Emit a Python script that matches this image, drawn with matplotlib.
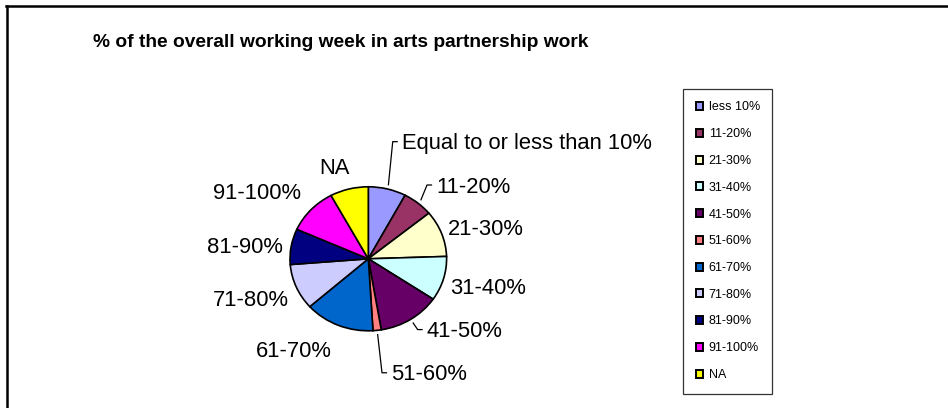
import matplotlib
matplotlib.use("Agg")
import matplotlib.pyplot as plt
from matplotlib.lines import Line2D
import numpy as np

# Share of the working week spent on arts partnership work
categories = ["less 10%", "11-20%", "21-30%", "31-40%", "41-50%", "51-60%",
              "61-70%", "71-80%", "81-90%", "91-100%", "NA"]
slice_labels = ["Equal to or less than 10%", "11-20%", "21-30%", "31-40%",
                "41-50%", "51-60%", "61-70%", "71-80%", "81-90%", "91-100%", "NA"]
shares = [7.8, 6.3, 10.4, 10.0, 12.9, 1.7, 14.4, 10.3, 8.0, 10.4, 7.9]
colors = ["#9999FF", "#993366", "#FFFFCC", "#CCFFFF", "#660066", "#FF8080",
          "#0066CC", "#CCCCFF", "#000080", "#FF00FF", "#FFFF00"]

# label layout in pie-axes units: (x, baseline y, alignment, leader line?)
label_layout = [
    (0.427, 1.52, "left", True),
    (0.865, 0.918, "left", True),
    (1.02, 0.33, "left", False),
    (1.05, -0.49, "left", False),
    (0.745, -1.09, "left", True),
    (0.29, -1.69, "left", True),
    (-0.467, -1.37, "right", False),
    (-1.01, -0.656, "right", False),
    (-1.093, 0.085, "right", False),
    (-0.86, 0.826, "right", False),
    (-0.434, 1.176, "center", False),
]

W, H = 948, 408
fig = plt.figure(figsize=(W / 100, H / 100), dpi=100)
fig.patch.set_facecolor("white")

label_font = ["Liberation Sans", "DejaVu Sans"]

# pie area (pixel box converted to figure fractions)
cx, cy, rx, ry = 368.3, 258.8, 78.3, 72.0
ax = fig.add_axes([(cx - rx) / W, (H - cy - ry) / H, 2 * rx / W, 2 * ry / H])
wedges, _ = ax.pie(shares, colors=colors, startangle=90, counterclock=False,
                   wedgeprops=dict(edgecolor="black", linewidth=1.2))
ax.set_aspect("auto")
ax.set_xlim(-1, 1)
ax.set_ylim(-1, 1)
ax.axis("off")

for w, text, (lx, ly, ha, leader) in zip(wedges, slice_labels, label_layout):
    ax.text(lx, ly, text, ha=ha, va="baseline", fontsize=15.8,
            family=label_font, color="black", clip_on=False)
    if leader:
        mid = np.deg2rad((w.theta1 + w.theta2) / 2)
        sx, sy = 1.06 * np.cos(mid), 1.06 * np.sin(mid)
        ey = ly + 0.107
        ax.add_line(Line2D([sx, lx - 0.115, lx - 0.058], [sy, ey, ey],
                           color="black", linewidth=0.9, clip_on=False))

# title
fig.text(92.7 / W, 1 - 46.7 / H, "% of the overall working week in arts partnership work",
         ha="left", va="baseline", fontsize=13.8, fontweight="bold",
         family=label_font)

# legend
leg = fig.legend(wedges, categories, loc="upper left",
                 bbox_to_anchor=(683 / W, 1 - 89 / H),
                 frameon=True, fancybox=False, shadow=False,
                 prop=dict(family=label_font, size=9),
                 handlelength=0.6, handleheight=0.6, handletextpad=0.45,
                 labelspacing=1.18, borderpad=1.0, borderaxespad=0)
frame = leg.get_frame()
frame.set_edgecolor("black")
frame.set_linewidth(0.9)
for h in leg.legend_handles:
    h.set_linewidth(1.4)

# chart-area border (top and left edges)
fig.add_artist(Line2D([6 / W, 1], [1 - 6 / H, 1 - 6 / H], color="black",
                      linewidth=1.8, transform=fig.transFigure))
fig.add_artist(Line2D([7 / W, 7 / W], [0, 1 - 6 / H], color="black",
                      linewidth=1.8, transform=fig.transFigure))

fig.savefig("out.png", dpi=100, facecolor="white")
